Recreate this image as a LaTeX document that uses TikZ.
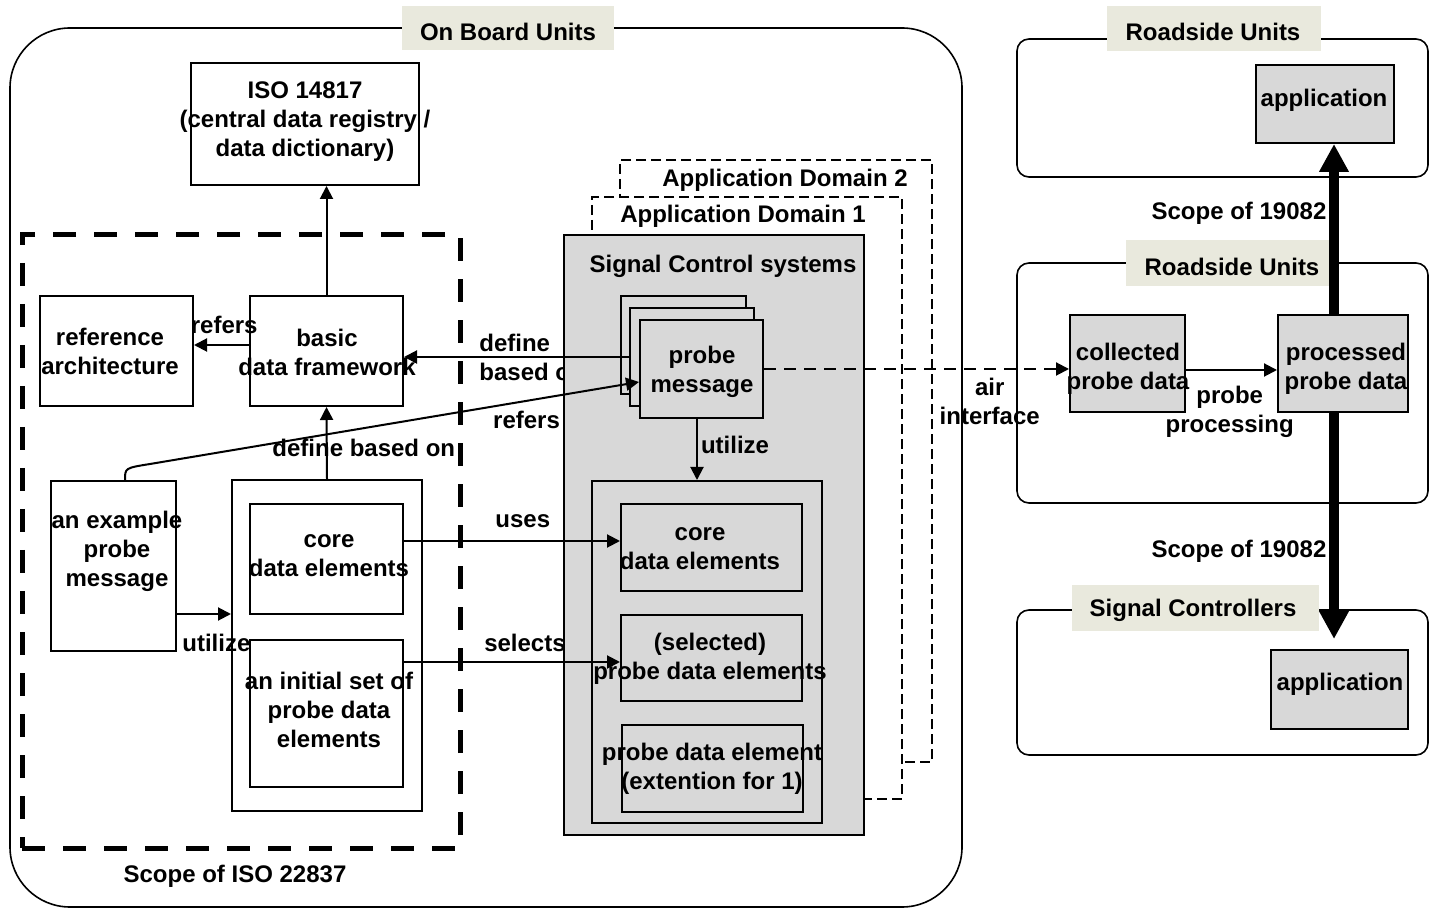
\documentclass[tikz,border=0pt]{standalone}
\usepackage{fontspec}
\setmainfont{Liberation Sans}
\usetikzlibrary{arrows.meta,fit}
\definecolor{boxgrey}{RGB}{216,216,216}
\definecolor{tagbeige}{RGB}{233,233,221}

\tikzset{
  every node/.style={font=\bfseries\fontsize{12}{14.5}\selectfont},
  box/.style={draw, line width=1pt, inner sep=0pt},
  gbox/.style={box, fill=boxgrey},
  unitbox/.style={draw, line width=0.8pt, rounded corners=6pt, inner sep=0pt},
  tagbox/.style={fill=tagbeige, inner sep=0pt},
  txt/.style={align=center, inner sep=0pt, yshift=-1.25pt},
  lbl/.style={align=center, inner sep=0pt},
  scopebox/.style={draw, line width=2.5pt, dash pattern=on 11.5pt off 9pt, inner sep=0pt},
  domainbox/.style={draw, fill=white, line width=1pt, dash pattern=on 5pt off 2.5pt, inner sep=0pt},
  arr/.style={line width=1pt, -{Triangle[length=6.5pt,width=6.5pt]}},
  fat/.style={line width=5pt, -{Triangle[length=14pt,width=14pt]}},
}

\begin{document}
\begin{tikzpicture}[x=0.5pt,y=-0.5pt]
  \useasboundingbox (0,0) rectangle (1429,908);

  % on board units
  \node[draw, line width=0.8pt, rounded corners=30pt, inner sep=0pt, fit={(10,28) (962,907)}] (obu) {};
  \node[tagbox, fit={(402,6) (614,50)}] (obutag) {};
  \draw (508,29) node[txt] (obutext) {On Board Units};

  \node[box, fit={(191,63) (419,185)}] (iso) {};
  \draw (305,119) node[txt] (isotext) {ISO 14817\\(central data registry /\\data dictionary)};

  \node[scopebox, fit={(22,235) (460,848)}] (scope22837) {};
  \draw (235,874) node[txt] (scopetext) {Scope of ISO 22837};

  \node[box, fit={(40,296) (193,406)}] (ref) {};
  \draw (110,349) node[txt] (reftext) {reference\\architecture};
  \node[box, fit={(250,296) (403,406)}] (basic) {};
  \draw (327,350) node[txt] (basictext) {basic\\data framework};

  \node[box, fit={(51,481) (176,651)}] (ex) {};
  \draw (117,549) node[txt] (extext) {an example\\probe\\message};
  \node[box, fit={(232,480) (422,811)}] (cont) {};
  \node[box, fit={(250,504) (403,614)}] (core1) {};
  \draw (329,553) node[txt] (core1text) {core\\data elements};
  \node[box, fit={(250,640) (403,787)}] (init) {};
  \draw (329,707) node[txt] (inittext) {an initial set of\\probe data\\elements};

  % label half hidden behind the signal control box
  \draw (479,357) node[lbl, anchor=west, align=left] (deflbl) {define\\based on};

  % application domains
  \node[domainbox, fit={(620,160) (932,762)}] (dom2) {};
  \draw (785,178) node[txt] (dom2text) {Application Domain 2};
  \node[domainbox, fit={(592,197) (902,799)}] (dom1) {};
  \draw (743,214) node[txt] (dom1text) {Application Domain 1};

  \node[gbox, line width=1.2pt, fit={(564,235) (864,835)}] (scs) {};
  \draw (723,264) node[txt] (scstext) {Signal Control systems};

  \node[gbox, fit={(621,296) (746,394)}] (pm3) {};
  \node[gbox, fit={(630,308) (754,406)}] (pm2) {};
  \node[gbox, fit={(640,320) (763,418)}] (pm) {};
  \draw (702,369) node[txt] (pmtext) {probe\\message};

  \node[gbox, fit={(592,481) (822,823)}] (dcont) {};
  \node[gbox, fit={(621,504) (802,591)}] (core2) {};
  \draw (700,546) node[txt] (core2text) {core\\data elements};
  \node[gbox, fit={(621,615) (802,701)}] (sel) {};
  \draw (710,656) node[txt] (seltext) {(selected)\\probe data elements};
  \node[gbox, fit={(622,725) (803,812)}] (ext) {};
  \draw (712,766) node[txt] (exttext) {probe data element\\(extention for 1)};

  % roadside units and signal controllers
  \node[unitbox, fit={(1017,39) (1428,177)}] (rsu1) {};
  \node[tagbox, fit={(1107,6) (1321,51)}] (rsu1tag) {};
  \draw (1213,29) node[txt] (rsu1text) {Roadside Units};
  \node[gbox, fit={(1256,65) (1394,143)}] (app1) {};
  \draw (1324,98) node[txt] (app1text) {application};

  \node[unitbox, fit={(1017,263) (1428,503)}] (rsu2) {};
  \node[tagbox, fit={(1126,240) (1330,286)}] (rsu2tag) {};
  \draw (1232,264) node[txt] (rsu2text) {Roadside Units};
  \node[gbox, fit={(1070,315) (1185,412)}] (coll) {};
  \draw (1128,366) node[txt] (colltext) {collected\\probe data};
  \node[gbox, fit={(1278,315) (1408,412)}] (proc) {};
  \draw (1346,366) node[txt] (proctext) {processed\\probe data};

  \node[unitbox, fit={(1017,610) (1428,755)}] (sc) {};
  \node[tagbox, fit={(1072,585) (1319,631)}] (sctag) {};
  \draw (1193,608) node[txt] (sctext) {Signal Controllers};
  \node[gbox, fit={(1271,650) (1408,729)}] (app2) {};
  \draw (1340,682) node[txt] (app2text) {application};

  % connectors
  \path[arr] (basic.north) edge (basic.north |- iso.south);
  \path[arr] (basic.west |- 0,345) edge node[lbl, pos=.45, yshift=10pt] {refers} (ref.east |- 0,345);
  \path[arr] (cont.north) edge node[lbl, pos=.43, xshift=18.5pt] {define based on} (basic.south);
  \path[arr] (ex.east |- 0,614) edge node[lbl, pos=.73, yshift=-14.5pt] {utilize} (cont.west |- 0,614);
  \draw[arr] (ex.north -| 125,0) .. controls (125,468) .. (150,464)
     -- node[lbl, pos=.77, yshift=-9.5pt] {refers} (pm.west |- 0,382);
  \path[arr] (pm2.west |- 0,357) edge (basic.east |- 0,357);
  \path[arr] (pm.south -| 697,0) edge node[lbl, pos=.43, xshift=19pt] {utilize} (dcont.north -| 697,0);
  \path[arr] (core1.east |- 0,541) edge node[lbl, pos=.55, yshift=10pt] {uses} (core2.west |- 0,541);
  \path[arr] (init.east |- 0,662) edge node[lbl, pos=.56, yshift=9.5pt] {selects} (sel.west |- 0,662);
  \path[arr, dash pattern=on 6pt off 4pt] (pm.east) edge node[lbl, pos=.74, yshift=-16pt] {air\\interface} (pm.east -| coll.west);
  \path[arr] (coll.east |- 0,370) edge node[lbl, pos=.48, yshift=-20.75pt] {probe\\processing} (proc.west |- 0,370);
  \path[fat] (proc.north -| 1334,0) edge node[lbl, pos=.59, xshift=-47.5pt] {Scope of 19082} (app1.south -| 1334,0);
  \path[fat, shorten >=5pt] (proc.south -| 1334,0) edge node[lbl, pos=.585, xshift=-47.5pt] {Scope of 19082} (app2.north -| 1334,0);

\end{tikzpicture}
\end{document}
